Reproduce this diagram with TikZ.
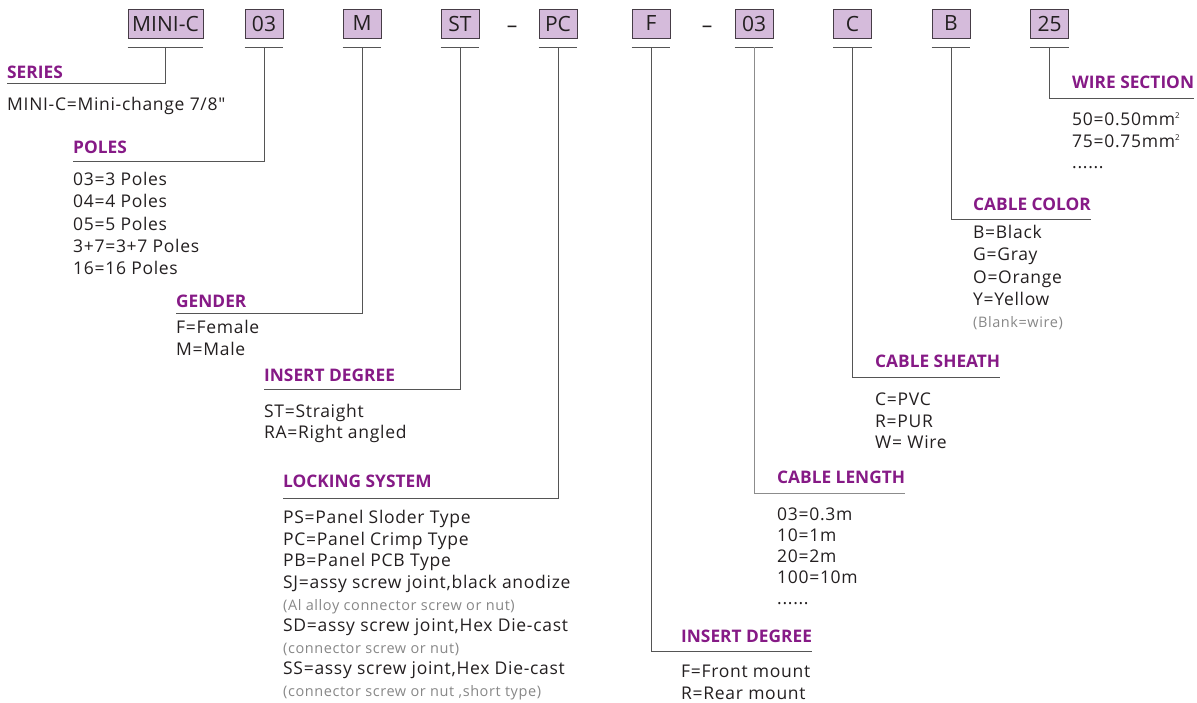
\documentclass[tikz,border=0pt]{standalone}
\usepackage{fontspec}
\setmainfont{Open Sans}
\newfontfamily\listfamily[LetterSpace=4]{Open Sans}
\usetikzlibrary{calc,positioning}
\definecolor{headpurple}{RGB}{134,26,134}
\definecolor{boxfill}{RGB}{213,187,219}
\definecolor{boxline}{RGB}{70,60,70}
\definecolor{linegray}{RGB}{85,85,85}
\definecolor{lightline}{RGB}{140,140,140}
\definecolor{textdark}{RGB}{35,31,32}
\definecolor{notegray}{RGB}{135,135,135}
\newcommand{\notetext}[1]{{\color{notegray}\fontsize{14.5}{20}\selectfont #1}}
\newcommand{\sqmm}{mm\raisebox{7pt}{\fontsize{8}{8}\selectfont 2}}
\newcommand{\listfont}[1]{\listfamily\fontsize{17.5}{#1}\selectfont}

\begin{document}
\begin{tikzpicture}[
    x=1pt, y=-1pt, font=\listfont{22},
    % Styles
    codeBox/.style={draw=boxline, fill=boxfill, line width=0.8pt, minimum width=38pt, minimum height=29pt, inner sep=0pt, text=textdark, font=\rmfamily\fontsize{21}{24}\selectfont},
    headNode/.style={anchor=south west, text=headpurple, font=\rmfamily\fontsize{17.3}{20}\selectfont\bfseries, inner xsep=0pt, inner ysep=8pt},
    descNode/.style={anchor=base west, align=left, inner sep=0pt, text=textdark},
    leader/.style={draw=linegray, line width=1pt}
]
\useasboundingbox (0,0) rectangle (1197,702);

% ================= CODE BOXES =================
\node[codeBox, minimum width=75pt] (series) at (165.5, 23.5) {MINI-C};
\node[codeBox] (poles) at (264, 23.5) {03};
\node[codeBox] (gender) at (362, 23.5) {M};
\node[codeBox] (insert) at (460, 23.5) {ST};
\node[text=textdark, font=\rmfamily\fontsize{21}{24}\selectfont] (dashA) at (512, 29) {–};
\node[codeBox] (locking) at (558, 23.5) {PC};
\node[codeBox] (mount) at (651, 23.5) {F};
\node[text=textdark, font=\rmfamily\fontsize{21}{24}\selectfont] (dashB) at (707, 29) {–};
\node[codeBox] (length) at (754, 23.5) {03};
\node[codeBox] (sheath) at (852.5, 23.5) {C};
\node[codeBox] (color) at (951, 23.5) {B};
\node[codeBox] (wire) at (1049.5, 23.5) {25};

% underlines
\foreach \b in {series, poles, gender, insert, locking, mount, length, sheath, color, wire}
    \draw[leader] ($(\b.south west)+(0,9)$) -- ($(\b.south east)+(0,9)$);

% ================= HEADINGS =================
\node[headNode, inner ysep=4pt] (seriesHead) at (7, 83) {SERIES};
\node[headNode, inner ysep=7pt] (polesHead) at (73, 161) {POLES};
\node[headNode, inner ysep=5pt] (genderHead) at (176, 313) {GENDER};
\node[headNode, inner ysep=7pt] (insertHead) at (264, 389) {INSERT DEGREE};
\node[headNode, inner ysep=10pt] (lockingHead) at (283, 498) {LOCKING SYSTEM};
\node[headNode] (mountHead) at (681, 651) {INSERT DEGREE};
\node[headNode, inner ysep=9pt] (lengthHead) at (777, 493) {CABLE LENGTH};
\node[headNode, inner ysep=9pt] (sheathHead) at (875, 377) {CABLE SHEATH};
\node[headNode] (colorHead) at (973, 219) {CABLE COLOR};
\node[headNode, inner ysep=9pt] (wireHead) at (1072, 98) {WIRE SECTION};

% ================= OPTIONS (anchored on the last line) =================
\node[descNode] (seriesList) at (7, 110.5) {MINI-C=Mini-change 7/8\symbol{34}};
\node[descNode, font=\listfont{22.2}] (polesList) at (73, 274.5) {03=3 Poles\\04=4 Poles\\05=5 Poles\\3+7=3+7 Poles\\16=16 Poles};
\node[descNode] (genderList) at (176, 355.5) {F=Female\\M=Male};
\node[descNode, font=\listfont{20.6}] (insertList) at (264, 438.5) {ST=Straight\\RA=Right angled};
\node[descNode, font=\listfont{21.6}] (lockingList) at (283, 696.5) {PS=Panel Sloder Type\\PC=Panel Crimp Type\\PB=Panel PCB Type\\SJ=assy screw joint,black anodize\\\notetext{(Al alloy connector screw or nut)}\\SD=assy screw joint,Hex Die-cast\\\notetext{(connector screw or nut)}\\SS=assy screw joint,Hex Die-cast\\\notetext{(connector screw or nut ,short type)}};
\node[descNode] (mountList) at (681, 699.5) {F=Front mount\\R=Rear mount};
\node[descNode, font=\listfont{21}] (lengthList) at (777, 604) {03=0.3m\\10=1m\\20=2m\\100=10m\\......};
\node[descNode, font=\listfont{21.5}] (sheathList) at (875, 448.5) {C=PVC\\R=PUR\\W= Wire};
\node[descNode, font=\listfont{22.2}] (colorList) at (973, 327.5) {B=Black\\G=Gray\\O=Orange\\Y=Yellow\\\notetext{(Blank=wire)}};
\node[descNode, font=\listfont{21.5}] (wireList) at (1072, 168.5) {50=0.50\sqmm\\75=0.75\sqmm\\......};

% ================= LEADERS =================
\draw[leader] ($(series.south)+(0,9)$) |- (seriesHead.south west);
\draw[leader] ($(poles.south)+(0,9)$) |- (polesHead.south west);
\draw[leader] ($(gender.south)+(0,9)$) |- (genderHead.south west);
\draw[leader] ($(insert.south)+(0,9)$) |- (insertHead.south west);
\draw[leader] ($(locking.south)+(0,9)$) |- (lockingHead.south west);
\draw[leader] ($(mount.south)+(0,9)$) |- (mountHead.south east);
\draw[leader, draw=lightline] ($(length.south)+(0,9)$) |- (lengthHead.south east);
\draw[leader] ($(sheath.south)+(0,9)$) |- (sheathHead.south east);
\draw[leader] ($(color.south)+(0,9)$) |- (colorHead.south east);
\draw[leader] ($(wire.south)+(0,9)$) |- (wireHead.south east);

\end{tikzpicture}
\end{document}
